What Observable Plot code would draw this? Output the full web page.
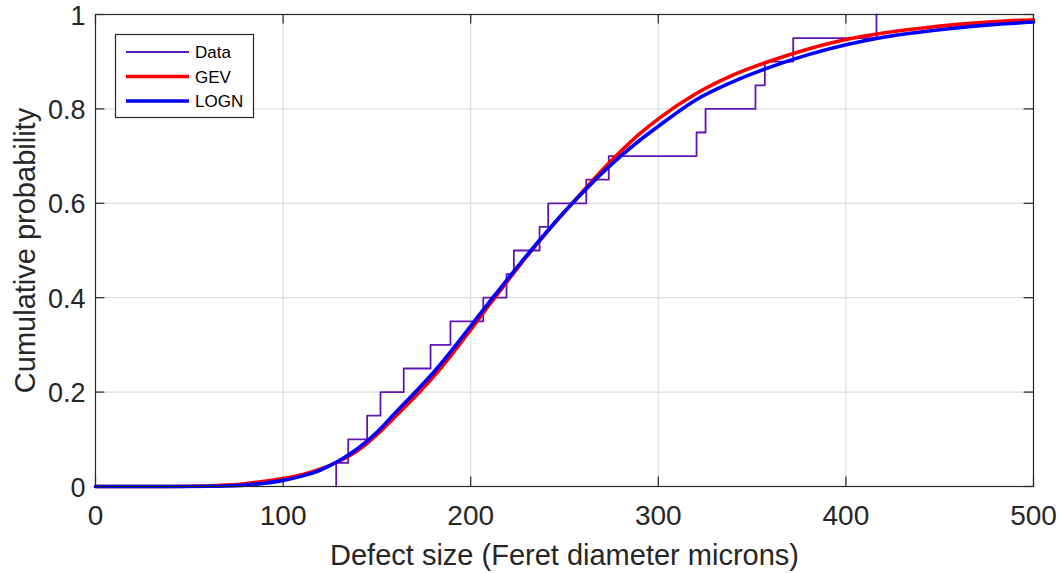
<!DOCTYPE html>
<html>
<head>
<meta charset="utf-8">
<script src="https://cdn.jsdelivr.net/npm/d3@7"></script>
<script src="https://cdn.jsdelivr.net/npm/@observablehq/plot@0.6"></script>
<style>
  html, body { margin: 0; padding: 0; background: #fff; }
  #chart { position: relative; width: 1061px; height: 573px; }
</style>
</head>
<body>
<div id="chart"></div>
<script>
// Tick values
const xTicks = [0, 100, 200, 300, 400, 500];
const yTicks = [0, 0.2, 0.4, 0.6, 0.8, 1];

// Empirical CDF (Data): step positions and levels after each step
const stepX = [128.3, 134.7, 144.8, 151.9, 164.3, 178.6, 189.2, 206.7, 219.1, 223.0,
               236.7, 241.3, 261.6, 273.6, 320.4, 325.2, 351.8, 356.8, 371.9, 416.3];
const stepY = [0.05, 0.10, 0.15, 0.20, 0.25, 0.30, 0.35, 0.40, 0.45, 0.50,
               0.55, 0.60, 0.65, 0.70, 0.75, 0.80, 0.85, 0.90, 0.95, 1.00];

// Fitted curves
const fitX  = [0, 40, 60, 70, 80, 90, 100, 110, 120, 130, 140, 150, 160, 170, 180, 190, 200,
               210, 220, 230, 240, 250, 260, 270, 280, 290, 300, 320, 340, 360, 380, 400,
               420, 440, 460, 480, 500];
const gevY  = [0, 0, 0.001, 0.003, 0.006, 0.011, 0.017, 0.025, 0.037, 0.054, 0.077, 0.110,
               0.149, 0.189, 0.232, 0.280, 0.332, 0.385, 0.437, 0.488, 0.536, 0.582, 0.626,
               0.670, 0.710, 0.747, 0.779, 0.832, 0.872, 0.902, 0.927, 0.947, 0.961, 0.971,
               0.979, 0.985, 0.989];
const lognY = [0, 0, 0.0005, 0.001, 0.003, 0.007, 0.013, 0.022, 0.035, 0.055, 0.081, 0.115,
               0.157, 0.198, 0.241, 0.289, 0.340, 0.391, 0.441, 0.490, 0.537, 0.582, 0.624,
               0.664, 0.700, 0.733, 0.763, 0.819, 0.858, 0.889, 0.915, 0.936, 0.952, 0.963,
               0.972, 0.979, 0.984];

const legendItems = ["Data", "GEV", "LOGN"];
const colors = { Data: "#6314b4", GEV: "#ff0000", LOGN: "#0000ff" };
const widths = { Data: 1.8, GEV: 3.6, LOGN: 3.6 };

const stepData = [{x: stepX[0], y: 0}].concat(stepX.map((x, i) => ({x, y: stepY[i]})));
const gevData = fitX.map((x, i) => ({x, y: gevY[i]}));
const lognData = fitX.map((x, i) => ({x, y: lognY[i]}));

const ink = "#262626";
const font = "Liberation Sans, Arial, Helvetica, sans-serif";

const chart = Plot.plot({
  width: 1061,
  height: 573,
  marginLeft: 95,
  marginRight: 28,
  marginTop: 14,
  marginBottom: 87,
  style: { fontFamily: font, color: ink, background: "#fff", overflow: "visible" },
  x: { domain: [0, 500] },
  y: { domain: [0, 1] },
  marks: [
    Plot.gridX(xTicks.slice(1, -1), { stroke: "#dedede", strokeOpacity: 1, strokeWidth: 1.2 }),
    Plot.gridY(yTicks.slice(1, -1), { stroke: "#dedede", strokeOpacity: 1, strokeWidth: 1.2 }),
    Plot.line(stepData, { x: "x", y: "y", curve: "step-after", stroke: colors.Data, strokeWidth: widths.Data }),
    Plot.line(gevData, { x: "x", y: "y", curve: "monotone-x", stroke: colors.GEV, strokeWidth: widths.GEV }),
    Plot.line(lognData, { x: "x", y: "y", curve: "monotone-x", stroke: colors.LOGN, strokeWidth: widths.LOGN }),
    Plot.frame({ stroke: ink, strokeWidth: 1.2 }),
    Plot.ruleX(xTicks, { y1: 0, y2: 0.02, stroke: ink, strokeWidth: 1.2 }),
    Plot.ruleX(xTicks, { y1: 1, y2: 0.98, stroke: ink, strokeWidth: 1.2 }),
    Plot.ruleY(yTicks, { x1: 0, x2: 5, stroke: ink, strokeWidth: 1.2 }),
    Plot.ruleY(yTicks, { x1: 500, x2: 495, stroke: ink, strokeWidth: 1.2 }),
    Plot.axisX(xTicks, {
      tickSize: 0, tickPadding: 19, fontSize: 28, fill: ink,
      tickFormat: d3.format("~g"),
      label: null
    }),
    Plot.axisX({
      ticks: [], tickSize: 0, fontSize: 29, fill: ink,
      label: "Defect size (Feret diameter microns)", labelAnchor: "center",
      labelArrow: "none", labelOffset: 78
    }),
    Plot.axisY(yTicks, {
      tickSize: 0, tickPadding: 10, fontSize: 27, fill: ink, dy: 1.5,
      tickFormat: d3.format("~g"),
      label: null
    }),
    Plot.axisY({
      ticks: [], tickSize: 0, fontSize: 29, fill: ink,
      label: "Cumulative probability", labelAnchor: "center",
      labelArrow: "none", labelOffset: 81
    })
  ]
});

document.getElementById("chart").appendChild(chart);

// Legend box (top-left inside the axes)
const svg = d3.select(chart);
const lg = svg.append("g").attr("font-family", font).attr("text-anchor", "start");
lg.append("rect").attr("x", 115.5).attr("y", 34.5).attr("width", 138).attr("height", 83)
  .attr("fill", "#fff").attr("stroke", ink).attr("stroke-width", 1.2);
legendItems.forEach((name, i) => {
  const cy = 52 + i * 24.5;
  lg.append("line").attr("x1", 126).attr("x2", 189).attr("y1", cy).attr("y2", cy)
    .attr("stroke", colors[name]).attr("stroke-width", widths[name]);
  lg.append("text").attr("x", 195).attr("y", cy).attr("dy", "0.36em")
    .attr("text-anchor", "start").attr("font-size", 17).attr("fill", "#000").text(name);
});
</script>
</body>
</html>
